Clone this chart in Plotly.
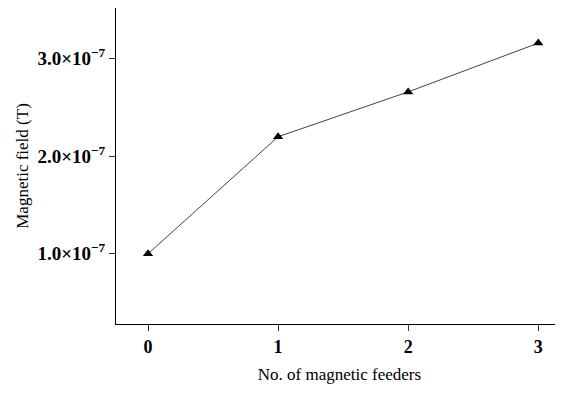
import plotly.graph_objects as go

feeders = [0, 1, 2, 3]
field = [1.0e-7, 2.2e-7, 2.66e-7, 3.16e-7]
ytick_vals = [1.0e-7, 2.0e-7, 3.0e-7]
ytick_text = ["<b>1.0×10<sup>−7</sup></b>", "<b>2.0×10<sup>−7</sup></b>", "<b>3.0×10<sup>−7</sup></b>"]
xtick_vals = [0, 1, 2, 3]
xtick_text = ["<b>0</b>", "<b>1</b>", "<b>2</b>", "<b>3</b>"]

fig = go.Figure()
fig.add_trace(go.Scatter(
    x=feeders, y=field, mode="lines+markers",
    line=dict(color="#444444", width=1),
    marker=dict(symbol="triangle-up", size=9, color="black"),
))

font = "Liberation Serif"
# page body adds an 8px offset; margins compensate
fig.update_layout(
    width=555, height=387,
    margin=dict(l=108, r=0, t=0, b=71, autoexpand=False),
    plot_bgcolor="white", paper_bgcolor="white",
    showlegend=False,
    font=dict(family=font, color="black", size=17),
)
fig.update_xaxes(
    range=[-0.246, 3.19], showgrid=False, zeroline=False,
    showline=True, linecolor="black", linewidth=1,
    ticks="outside", ticklen=6, tickcolor="#333333",
    tickvals=xtick_vals, ticktext=xtick_text,
    tickfont=dict(family=font, size=18),
    title=dict(text="No. of magnetic feeders", font=dict(family=font, size=17), standoff=12),
)
fig.update_yaxes(
    range=[0.28e-7, 3.52e-7], showgrid=False, zeroline=False,
    showline=True, linecolor="black", linewidth=1,
    ticks="outside", ticklen=6, tickcolor="#333333",
    tickvals=ytick_vals, ticktext=ytick_text,
    tickfont=dict(family=font, size=19),
    title=dict(text="Magnetic field (T)", font=dict(family=font, size=17), standoff=4),
)
fig.write_html("out.html")
